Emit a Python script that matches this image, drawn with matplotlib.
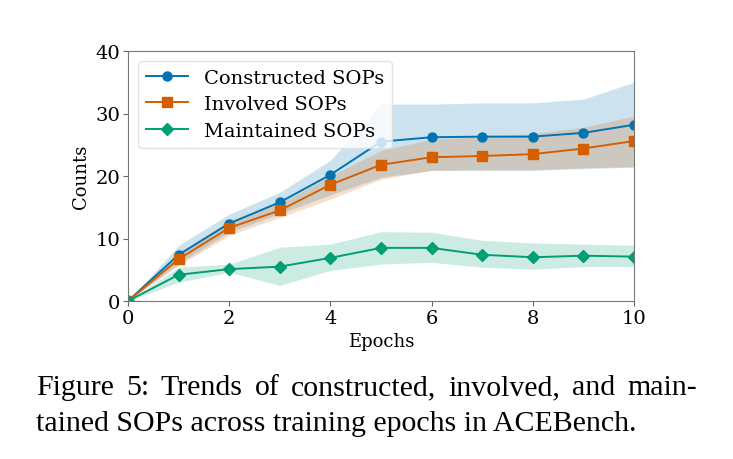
import matplotlib
matplotlib.use("Agg")
import matplotlib.pyplot as plt

# data
epochs = [0, 1, 2, 3, 4, 5, 6, 7, 8, 9, 10]

constructed = [0, 7.4, 12.4, 15.8, 20.2, 25.5, 26.2, 26.3, 26.3, 26.9, 28.2]
constructed_lo = [0, 6.0, 11.0, 14.0, 17.0, 19.8, 20.9, 20.9, 20.9, 21.2, 21.4]
constructed_hi = [0, 8.9, 13.9, 17.4, 22.5, 31.5, 31.5, 31.7, 31.7, 32.3, 35.0]

involved = [0, 6.7, 11.7, 14.5, 18.6, 21.8, 23.0, 23.2, 23.5, 24.4, 25.6]
involved_lo = [0, 5.7, 10.5, 13.4, 16.3, 19.5, 20.9, 21.0, 21.0, 21.3, 21.5]
involved_hi = [0, 7.7, 12.9, 15.6, 20.0, 24.1, 25.9, 26.3, 26.8, 27.8, 29.6]

maintained = [0, 4.2, 5.1, 5.5, 6.9, 8.5, 8.5, 7.4, 7.0, 7.25, 7.1]
maintained_lo = [0, 3.0, 4.6, 2.5, 4.9, 5.9, 6.2, 5.4, 5.1, 5.5, 5.5]
maintained_hi = [0, 5.4, 5.9, 8.6, 9.1, 11.1, 11.0, 9.7, 9.3, 9.1, 8.9]

caption_1 = "Figure 5: Trends of constructed, involved, and main-"
caption_2 = "tained SOPs across training epochs in ACEBench."

blue = "#0173b2"
orange = "#d55e00"
green = "#029e73"

plt.rcParams["font.family"] = ["DejaVu Serif"]

fig = plt.figure(figsize=(7.33, 4.6), dpi=100)
ax = fig.add_axes([128 / 733, 1 - 302 / 460, (634 - 128) / 733, (302 - 52) / 460])

series = [
    ("Constructed SOPs", constructed, constructed_lo, constructed_hi, blue, "o", 6.5),
    ("Involved SOPs", involved, involved_lo, involved_hi, orange, "s", 6.5),
    ("Maintained SOPs", maintained, maintained_lo, maintained_hi, green, "D", 6.5),
]
for name, y, lo, hi, c, m, ms in series:
    ax.fill_between(epochs, lo, hi, color=c, alpha=0.2, linewidth=0)
    ax.plot(epochs, y, color=c, marker=m, markersize=ms, linewidth=1.4, label=name)

ax.set_xlim(0, 10)
ax.set_ylim(0, 40)
ax.set_xticks([0, 2, 4, 6, 8, 10])
ax.set_yticks([0, 10, 20, 30, 40])
ax.tick_params(labelsize=14, length=3.5, color="#666666", pad=2)
for s in ax.spines.values():
    s.set_color("#777777")
ax.set_xlabel("Epochs", fontsize=13, labelpad=4)
ax.set_ylabel("Counts", fontsize=13, labelpad=4)

leg = ax.legend(loc="upper left", fontsize=14, frameon=True, borderpad=0.4,
                handlelength=2.2, labelspacing=0.45)
leg.get_frame().set_edgecolor("#dddddd")
leg.get_frame().set_alpha(0.8)

# caption: first line justified between x=36 and x=697 px, second line natural
cap_font = dict(fontsize=21.5, family="Liberation Serif", va="center", ha="left")
renderer = fig.canvas.get_renderer()
words = caption_1.split(" ")
widths = []
for w in words:
    t = fig.text(0, 0, w, **cap_font)
    widths.append(t.get_window_extent(renderer).width)
    t.remove()
gap = (697 - 36 - sum(widths)) / (len(words) - 1)
x = 36
for w, wd in zip(words, widths):
    fig.text(x / 733, 1 - 388 / 460, w, **cap_font)
    x += wd + gap
fig.text(36 / 733, 1 - 424 / 460, caption_2, **cap_font)

fig.savefig("out.png", dpi=100)
